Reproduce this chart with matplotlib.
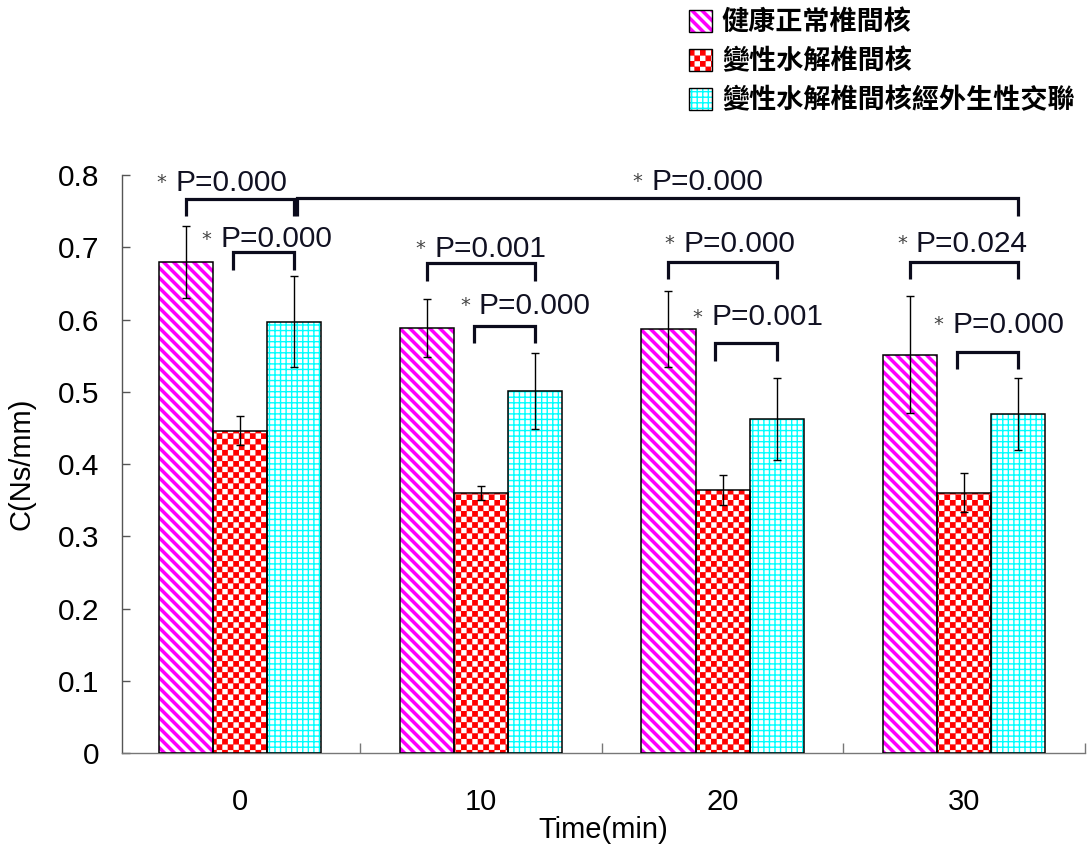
import warnings
warnings.filterwarnings('ignore')
import numpy as np
import matplotlib
matplotlib.use('Agg')
import matplotlib.pyplot as plt
from matplotlib import hatch as mhatch
from matplotlib.path import Path
from matplotlib.patches import Patch
from matplotlib.font_manager import FontProperties
from matplotlib.legend_handler import HandlerTuple

# ---------------- data ----------------
times = ['0', '10', '20', '30']
series_names = ['健康正常椎間核', '變性水解椎間核', '變性水解椎間核經外生性交聯']
healthy = [0.680, 0.588, 0.587, 0.551]
healthy_sd = [0.050, 0.040, 0.053, 0.081]
degenerated = [0.446, 0.360, 0.364, 0.360]
degenerated_sd = [0.020, 0.010, 0.021, 0.027]
crosslinked = [0.597, 0.501, 0.462, 0.469]
crosslinked_sd = [0.063, 0.053, 0.057, 0.050]
p_healthy_vs_crosslinked = ['0.000', '0.001', '0.000', '0.024']
p_degenerated_vs_crosslinked = ['0.000', '0.000', '0.001', '0.000']
p_time_crosslinked = '0.000'

# ---------------- annotation layout ----------------
outer_level = [0.767, 0.678, 0.680, 0.680]
inner_level = [0.693, 0.591, 0.567, 0.555]
overall_level = 0.768
drop = 0.024
outer_text_off = [(-10, 8), (7, 6), (15, 10), (6, 10)]   # pixels
inner_text_off = [(-12, 5), (5, 12), (-4, 18), (-4, 19)]
overall_text_off = (355, 8)


# ---------------- custom filled hatches ----------------
class CheckerHatch(mhatch.HatchPatternBase):
    """Filled checkerboard squares (hatch char 'c')."""
    filled = True

    def __init__(self, hatch, density):
        self.n = 18 if 'c' in hatch else 0
        self.num_vertices = (self.n * self.n // 2) * 5 if self.n else 0

    def set_vertices_and_codes(self, vertices, codes):
        n = self.n
        s = 1.0 / n
        e = 0.006  # inset to compensate the hatch stroke
        k = 0
        for i in range(n):
            for j in range(n):
                if (i + j) % 2 == 0:
                    x0, y0 = i * s + e, j * s + e
                    x1, y1 = (i + 1) * s - e, (j + 1) * s - e
                    vertices[k:k + 5] = [(x0, y0), (x1, y0), (x1, y1), (x0, y1), (x0, y0)]
                    codes[k:k + 5] = [Path.MOVETO, Path.LINETO, Path.LINETO,
                                      Path.LINETO, Path.CLOSEPOLY]
                    k += 5


class BandHatch(mhatch.HatchPatternBase):
    """Thick filled diagonal bands, top-left to bottom-right (hatch char 's')."""
    filled = True

    def __init__(self, hatch, density):
        self.n = 10 if 's' in hatch else 0
        self.count = 2 * self.n + 3 if self.n else 0
        self.num_vertices = self.count * 5

    def set_vertices_and_codes(self, vertices, codes):
        n = self.n
        t = 0.30 / n
        k = 0
        for m in range(-1, 2 * n + 2):
            c = m / n
            vertices[k:k + 5] = [(-0.2, c + 0.2), (1.2, c - 1.2), (1.2, c + t - 1.2),
                                 (-0.2, c + t + 0.2), (-0.2, c + 0.2)]
            codes[k:k + 5] = [Path.MOVETO, Path.LINETO, Path.LINETO,
                              Path.LINETO, Path.CLOSEPOLY]
            k += 5


mhatch._hatch_types.append(CheckerHatch)
mhatch._hatch_types.append(BandHatch)

plt.rcParams['font.family'] = ['Liberation Sans', 'DejaVu Sans']
plt.rcParams['hatch.linewidth'] = 1.0

fig = plt.figure(figsize=(10.87, 8.44), dpi=100)
ax = fig.add_axes([0.1118, 0.1078, 0.886, 0.6848])

x = np.arange(len(times))
width = 0.224
offsets = [-width, 0.0, width]
values = [healthy, degenerated, crosslinked]
sds = [healthy_sd, degenerated_sd, crosslinked_sd]
styles = [
    dict(color='#ff00ff', hatch='s'),
    dict(color='#ff0000', hatch='c'),
    dict(color='#00ffff', hatch='+++'),
]

handles = []
for off, vals, sd, st in zip(offsets, values, sds, styles):
    ax.bar(x + off, vals, width, facecolor='white', edgecolor=st['color'],
           hatch=st['hatch'], linewidth=0, zorder=2)
    ax.bar(x + off, vals, width, fill=False, edgecolor='black', linewidth=1.1, zorder=3)
    ax.errorbar(x + off, vals, yerr=sd, fmt='none', ecolor='black', elinewidth=1.0,
                capsize=3, capthick=1.0, zorder=4)
    h1 = Patch(facecolor='white', edgecolor=st['color'], hatch=st['hatch'], linewidth=0)
    h2 = Patch(fill=False, edgecolor='black', linewidth=1.0)
    handles.append((h1, h2))

# axes styling
ax.set_xlim(-0.49, 3.5)
ax.set_ylim(0, 0.8)
for s in ['top', 'right']:
    ax.spines[s].set_visible(False)
ax.spines['left'].set_color('#555555')
ax.spines['bottom'].set_color('#777777')
ax.spines['left'].set_linewidth(1.0)
ax.spines['bottom'].set_linewidth(1.0)

ax.set_yticks(np.arange(0, 0.81, 0.1))
ax.set_yticklabels(['0'] + ['%.1f' % v for v in np.arange(0.1, 0.81, 0.1)])
ax.set_xticks(x)
ax.set_xticklabels(times)
ax.set_xticks(x + 0.5, minor=True)
ax.tick_params(axis='y', direction='in', length=6, width=1, color='#555555',
               labelsize=21.5, pad=16)
ax.tick_params(axis='x', which='major', length=0, labelsize=21, pad=25.5)
ax.tick_params(axis='x', which='minor', direction='in', length=7.5, width=1, color='#777777')
ax.set_xlabel('Time(min)', fontsize=21, labelpad=-0.5)
ax.set_ylabel('C(Ns/mm)', fontsize=21)
ax.yaxis.set_label_coords(-0.089, 0.5)

BR_COLOR = '#0b0b1c'


def bracket(x0, x1, y, d):
    ax.plot([x0, x0, x1, x1], [y - d, y, y, y - d], color=BR_COLOR, lw=2.3,
            solid_joinstyle='miter', solid_capstyle='butt', zorder=5, clip_on=False)


def p_label(xp, y, text, off):
    dx, dy = off[0] * 0.72, off[1] * 0.72
    ax.annotate('P=' + text, xy=(xp, y), xytext=(dx, dy), textcoords='offset points',
                ha='left', va='baseline', fontsize=21.5, color='#111122',
                annotation_clip=False, zorder=6)
    ax.annotate('*', xy=(xp, y), xytext=(dx - 6.5, dy + 2), textcoords='offset points',
                ha='right', va='baseline', fontsize=14, color='#444444',
                family='DejaVu Sans', annotation_clip=False, zorder=6)


for i in range(len(times)):
    xl = x[i] + offsets[0]
    xr = x[i] + offsets[2]
    bracket(xl, xr, outer_level[i], drop)
    p_label(xl, outer_level[i], p_healthy_vs_crosslinked[i], outer_text_off[i])
    xi = x[i] + offsets[1] - 0.03
    bracket(xi, xr, inner_level[i], drop)
    p_label(xi, inner_level[i], p_degenerated_vs_crosslinked[i], inner_text_off[i])

xo0 = x[0] + offsets[2] + 0.012
xo1 = x[-1] + offsets[2]
bracket(xo0, xo1, overall_level, drop)
p_label(xo0, overall_level, p_time_crosslinked, overall_text_off)

fig.legend(handles, series_names, handler_map={tuple: HandlerTuple(ndivide=1, pad=0)},
           loc='upper left', bbox_to_anchor=(0.634, 0.99), bbox_transform=fig.transFigure,
           frameon=False,
           prop=FontProperties(family=['Noto Sans CJK TC', 'DejaVu Sans'], size=19.5, weight='bold'),
           handlelength=0.85, handleheight=0.85, handletextpad=0.35, labelspacing=0.4,
           borderpad=0, borderaxespad=0)

fig.savefig('out.png', dpi=100)
